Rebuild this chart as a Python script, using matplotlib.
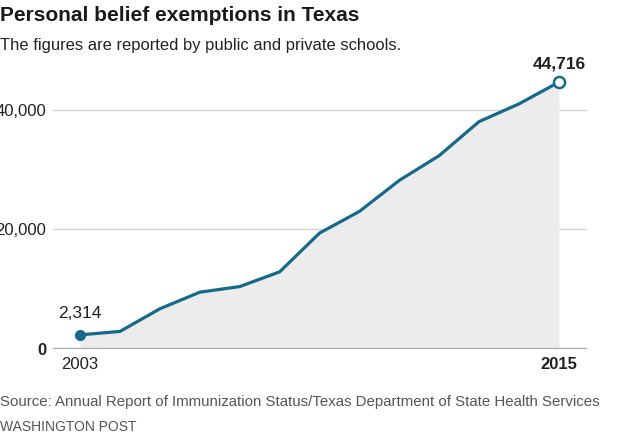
import matplotlib.pyplot as plt

# Personal belief exemptions in Texas, 2003-2015
years = [2003, 2004, 2005, 2006, 2007, 2008, 2009, 2010, 2011, 2012, 2013, 2014, 2015]
exemptions = [2314, 2900, 6700, 9480, 10420, 12890, 19390, 23030, 28240, 32390, 38100, 41070, 44716]
y_ticks = [0, 20000, 40000]
y_tick_labels = ["0", "20,000", "40,000"]

LINE_CLR = "#17698a"
FILL_CLR = "#ececec"
FONT = "Liberation Sans"

plt.rcParams["font.family"] = [FONT, "DejaVu Sans"]

fig = plt.figure(figsize=(6.4, 4.38), dpi=100)
ax = fig.add_axes([0.0828, 0.2039, 0.8342, 0.6397])

ax.fill_between(years, exemptions, 0, color=FILL_CLR, linewidth=0, zorder=1)
ax.plot(years, exemptions, color=LINE_CLR, linewidth=2.3, zorder=3, solid_joinstyle="round")

# start / end markers
ax.plot(years[0], exemptions[0], "o", color=LINE_CLR, markersize=7, zorder=4, clip_on=False)
ax.plot(years[-1], exemptions[-1], "o", markerfacecolor="white", markeredgecolor=LINE_CLR,
        markeredgewidth=1.8, markersize=8, zorder=4, clip_on=False)

ax.annotate(f"{exemptions[0]:,}", (years[0], exemptions[0]), xytext=(0, 10),
            textcoords="offset points", ha="center", va="bottom", fontsize=12.5, color="#222222")
ax.annotate(f"{exemptions[-1]:,}", (years[-1], exemptions[-1]), xytext=(0, 8),
            textcoords="offset points", ha="center", va="bottom", fontsize=12.5,
            fontweight="bold", color="#222222", annotation_clip=False)

ax.set_xlim(2002.32, 2015.70)
ax.set_ylim(0, 47000)

for v in y_ticks[1:]:
    ax.axhline(v, color="#d4d4d4", linewidth=1, zorder=0)
ax.axhline(0, color="#a8a8a8", linewidth=1.6, zorder=2)

# the reference crops the left edge of the big tick labels
ax.set_yticks(y_ticks)
ax.set_yticklabels(y_tick_labels, fontsize=12, color="#222222")
ax.get_yticklabels()[0].set_fontweight("bold")
ax.tick_params(axis="y", length=0, pad=5)

ax.set_xticks([years[0], years[-1]])
ax.set_xticklabels([str(years[0]), str(years[-1])], fontsize=12, color="#222222")
ax.get_xticklabels()[1].set_fontweight("bold")
ax.tick_params(axis="x", length=0, pad=6)

for s in ax.spines.values():
    s.set_visible(False)

fig.text(0.0, 0.952, "Personal belief exemptions in Texas", fontsize=15, fontweight="bold",
         color="#1a1a1a", ha="left", va="baseline")
fig.text(0.0, 0.886, "The figures are reported by public and private schools.", fontsize=11.85,
         color="#222222", ha="left", va="baseline")
fig.text(0.0, 0.074, "Source: Annual Report of Immunization Status/Texas Department of State Health Services",
         fontsize=10.85, color="#555555", ha="left", va="baseline")
fig.text(0.0, 0.015, "WASHINGTON POST", fontsize=10, color="#555555", ha="left", va="baseline")

fig.savefig("out.png", dpi=100)
